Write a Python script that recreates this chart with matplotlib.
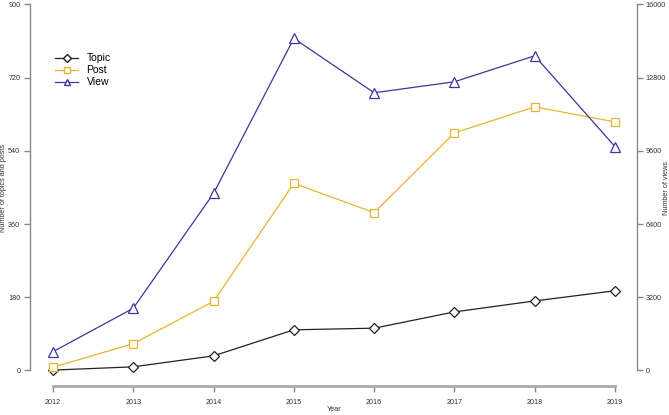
import matplotlib.pyplot as plt
from matplotlib.lines import Line2D

plt.rcParams['font.family'] = ['Liberation Sans', 'DejaVu Sans']

years = [2012, 2013, 2014, 2015, 2016, 2017, 2018, 2019]
topic = [1, 9, 36, 100, 104, 144, 171, 196]
post = [8, 66, 170, 460, 388, 584, 648, 611]
view = [820, 2720, 7740, 14510, 12135, 12615, 13750, 9780]

left_ticks = [0, 180, 360, 540, 720, 900]
right_ticks = [0, 3200, 6400, 9600, 12800, 16000]

c_topic = '#222222'
c_post = '#E6B530'
c_view = '#3A36A0'
gray = '#888888'

fig = plt.figure(figsize=(6.69, 4.15), dpi=100)
ax = fig.add_axes([30/669, 1 - 386/415, 607/669, 386/415])
ax2 = ax.twinx()

ax.plot(years, topic, '-', color=c_topic, lw=0.9, marker='D', ms=5.2,
        mfc='white', mec=c_topic, mew=0.9, zorder=3)
ax.plot(years, post, '-', color=c_post, lw=0.9, marker='s', ms=5.2,
        mfc='white', mec=c_post, mew=0.9, zorder=3)
ax2.plot(years, view, '-', color=c_view, lw=0.9, marker='^', ms=7,
         mfc='white', mec=c_view, mew=0.9, zorder=3)

ax.set_xlim(2011.714, 2019.274)
ax.set_ylim(-38.1, 910.6)
ax2.set_ylim(-38.1 * 16000 / 900, 910.6 * 16000 / 900)

for a in (ax, ax2):
    a.patch.set_visible(False)
    a.spines['top'].set_visible(False)

ax.spines['right'].set_visible(False)
ax2.spines['left'].set_visible(False)
ax2.spines['bottom'].set_visible(False)

ax.spines['left'].set_bounds(0, 900)
ax.spines['left'].set_color(gray)
ax.spines['left'].set_linewidth(1.0)
ax2.spines['right'].set_bounds(0, 16000)
ax2.spines['right'].set_color(gray)
ax2.spines['right'].set_linewidth(1.0)
ax.spines['bottom'].set_bounds(2012, 2019)
ax.spines['bottom'].set_color('#aaaaaa')
ax.spines['bottom'].set_linewidth(2.0)

ax.set_xticks(years)
ax.set_xticklabels([str(y) for y in years])
ax.set_yticks(left_ticks)
ax.set_yticklabels([str(t) for t in left_ticks])
ax2.set_yticks(right_ticks)
ax2.set_yticklabels([str(t) for t in right_ticks])

ax.tick_params(axis='x', length=4, width=1.0, color=gray, labelsize=5.2,
               labelcolor='#333333', pad=5)
ax.tick_params(axis='y', length=4, width=1.0, color=gray, labelsize=5.2,
               labelcolor='#333333', pad=3)
ax2.tick_params(axis='y', length=4, width=1.0, color=gray, labelsize=5.2,
                labelcolor='#333333', pad=2)

fig.text(4/669, 1 - 188/415, 'Number of topics and posts', rotation=90,
         ha='center', va='center', fontsize=5.2, color='#333333')
fig.text(666/669, 1 - 188/415, 'Number of views', rotation=90,
         ha='center', va='center', fontsize=5.2, color='#333333')
fig.text(334/669, 1 - 409/415, 'Year', ha='center', va='center',
         fontsize=5.2, color='#333333')

handles = [
    Line2D([], [], color=c_topic, lw=0.9, marker='D', ms=4, mfc='white', mec=c_topic),
    Line2D([], [], color=c_post, lw=0.9, marker='s', ms=4, mfc='white', mec=c_post),
    Line2D([], [], color=c_view, lw=0.9, marker='^', ms=5, mfc='white', mec=c_view),
]
fig.legend(handles, ['Topic', 'Post', 'View'], loc='upper left',
           bbox_to_anchor=(50/669, 1 - 48/415), frameon=False, fontsize=7.5,
           handlelength=2.2, handletextpad=0.8, labelspacing=0.2,
           borderpad=0)

fig.savefig('out.png', dpi=100)
